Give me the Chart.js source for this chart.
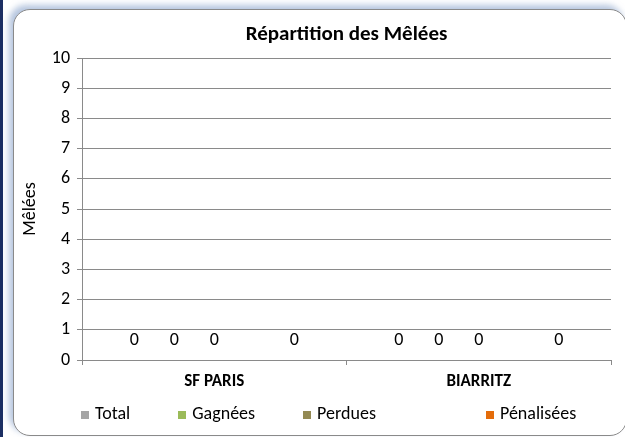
<!DOCTYPE html>
<html><head><meta charset="utf-8">
<script src="https://cdn.jsdelivr.net/npm/chart.js@4.4.1/dist/chart.umd.min.js"></script>
<style>
html,body{margin:0;padding:0;background:#fff;width:625px;height:437px;overflow:hidden;font-family:Carlito,Lato,sans-serif}
#strip{position:absolute;left:0;top:0;width:3px;height:437px;background:#1c2f63}
#frame{position:absolute;left:13px;top:9px;width:614px;height:427px;border:1.5px solid #8a8a8a;border-radius:17px;box-shadow:-4px -4px 6px rgba(120,150,195,0.55);background:#fff;box-sizing:border-box}
#wrap{position:absolute;left:0;top:0;width:625px;height:437px}
#legend{position:absolute;left:81px;top:403px;height:21px;line-height:21px;display:flex;align-items:center;font-size:18px;color:#000;white-space:nowrap}
.item{display:flex;align-items:center;margin-right:48px}
.box{width:8px;height:8px;margin-right:6px;position:relative;top:1px}
</style></head>
<body>
<div id="strip"></div><div id="frame"></div>
<div id="wrap"><canvas id="c" width="625" height="437"></canvas></div>
<div id="legend"></div>
<script>
const categories = ['SF PARIS', 'BIARRITZ'];
const seriesNames = ['Total', 'Gagnées', 'Perdues', '', 'Pénalisées'];
const total = [0, 0];
const gagnees = [0, 0];
const perdues = [0, 0];
const blankSeries = [null, null];
const penalisees = [0, 0];
const yTickValues = [0, 1, 2, 3, 4, 5, 6, 7, 8, 9, 10];
const chartTitle = 'Répartition des Mêlées';
const yAxisTitle = 'Mêlées';

const FONT = 'Carlito, Lato, sans-serif';
const GRID = '#8a8a8a';

const valueLabels = {
  id: 'valueLabels',
  afterDatasetsDraw(chart) {
    const ctx = chart.ctx;
    ctx.save();
    ctx.font = '18px ' + FONT;
    ctx.fillStyle = '#000';
    ctx.textAlign = 'center';
    ctx.textBaseline = 'middle';
    chart.data.datasets.forEach((ds, i) => {
      const meta = chart.getDatasetMeta(i);
      meta.data.forEach((el, j) => {
        const v = ds.data[j];
        if (v === null || v === undefined) return;
        ctx.fillText(String(v), el.x, el.y - 20);
      });
    });
    ctx.restore();
  }
};

const seriesData = [total, gagnees, perdues, blankSeries, penalisees];
const seriesFill = ['#a5a5a5', '#9bbb59', '#948a54', 'rgba(0,0,0,0)', '#e46c0a'];

const chart = new Chart(document.getElementById('c'), {
  type: 'bar',
  data: {
    labels: categories,
    datasets: seriesNames.map((name, i) => ({
      label: name,
      data: seriesData[i],
      backgroundColor: seriesFill[i],
      borderWidth: 0,
      categoryPercentage: 0.756,
      barPercentage: 0.9
    }))
  },
  options: {
    responsive: false,
    animation: false,
    devicePixelRatio: 1,
    layout: { padding: { left: 10, right: 14, top: 10, bottom: 47 } },
    plugins: {
      legend: { display: false },
      tooltip: { enabled: false },
      title: {
        display: true,
        text: chartTitle,
        fullSize: false,
        color: '#000',
        font: { family: FONT, size: 21, weight: 'bold' },
        padding: { top: 12.4, bottom: 10.4 }
      }
    },
    scales: {
      x: {
        afterFit(scale) { scale.height = 30; },
        grid: { display: true, drawOnChartArea: false, offset: true, tickLength: 5, color: GRID },
        border: { color: GRID },
        ticks: { color: '#000', padding: 6.4, font: { family: FONT, size: 17, weight: 'bold' } }
      },
      y: {
        min: 0, max: 10,
        afterFit(scale) { scale.width = 72; },
        afterBuildTicks(scale) { scale.ticks = yTickValues.map(v => ({ value: v })); },
        grid: { color: GRID, tickLength: 5 },
        border: { color: GRID },
        ticks: { color: '#000', padding: 7, font: { family: FONT, size: 18 } },
        title: {
          display: true, text: yAxisTitle, color: '#000',
          font: { family: FONT, size: 18 },
          padding: { top: 9.2, bottom: 0 }
        }
      }
    }
  },
  plugins: [valueLabels]
});

const legendEl = document.getElementById('legend');
chart.data.datasets.forEach(ds => {
  const item = document.createElement('div');
  item.className = 'item';
  const box = document.createElement('span');
  box.className = 'box';
  box.style.background = ds.backgroundColor;
  const txt = document.createElement('span');
  txt.textContent = ds.label;
  item.appendChild(box);
  item.appendChild(txt);
  legendEl.appendChild(item);
});
</script>
</body></html>
